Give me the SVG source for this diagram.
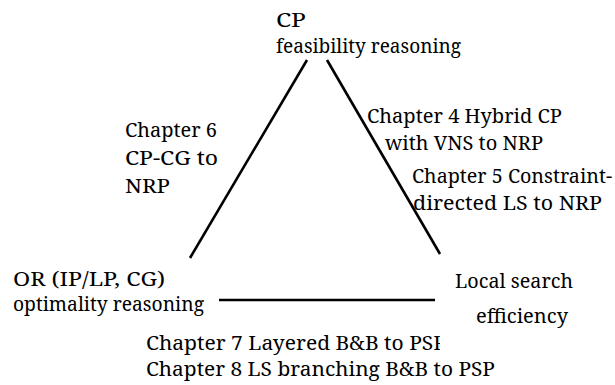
<svg xmlns="http://www.w3.org/2000/svg" width="615" height="385" viewBox="0 0 615 385">
<style>
text { font-size: 19.5px; fill: #000; }
.edge { stroke: #000; stroke-width: 2.6; fill: none; }
</style>
<defs>
<clipPath id="clipBottom"><rect x="0" y="320" width="440" height="40"/></clipPath>
</defs>
<rect x="0" y="0" width="615" height="385" fill="#fff"/>
<g id="connectors">
<line class="edge" x1="307" y1="60" x2="190" y2="258"/>
<line class="edge" x1="327" y1="60" x2="440" y2="254"/>
<line class="edge" x1="219" y1="300" x2="435" y2="300"/>
</g>
<g id="node-cp" style="font-family: 'Noto Serif', 'Times New Roman', 'Liberation Serif', 'DejaVu Serif', serif">
<text x="276" y="27" textLength="30" lengthAdjust="spacingAndGlyphs">CP</text>
<text x="276" y="53" textLength="185" lengthAdjust="spacingAndGlyphs">feasibility reasoning</text>
</g>
<g id="node-or" style="font-family: 'Noto Serif', 'Times New Roman', 'Liberation Serif', 'DejaVu Serif', serif">
<text x="13" y="286" textLength="152" lengthAdjust="spacingAndGlyphs">OR (IP/LP, CG)</text>
<text x="13" y="311" textLength="191" lengthAdjust="spacingAndGlyphs">optimality reasoning</text>
</g>
<g id="node-ls" style="font-family: 'Noto Serif', 'Times New Roman', 'Liberation Serif', 'DejaVu Serif', serif">
<text x="455" y="288" textLength="118" lengthAdjust="spacingAndGlyphs">Local search</text>
<text x="476" y="323" textLength="92" lengthAdjust="spacingAndGlyphs">efficiency</text>
</g>
<g id="label-ch6" style="font-family: 'Noto Serif', 'Times New Roman', 'Liberation Serif', 'DejaVu Serif', serif">
<text x="125" y="137" textLength="92" lengthAdjust="spacingAndGlyphs">Chapter 6</text>
<text x="125" y="165" textLength="93" lengthAdjust="spacingAndGlyphs">CP-CG to</text>
<text x="125" y="193" textLength="45" lengthAdjust="spacingAndGlyphs">NRP</text>
</g>
<g id="label-ch4" style="font-family: 'Noto Serif', 'Times New Roman', 'Liberation Serif', 'DejaVu Serif', serif">
<text x="367" y="123" textLength="195" lengthAdjust="spacingAndGlyphs">Chapter 4 Hybrid CP</text>
<text x="385" y="150" textLength="158" lengthAdjust="spacingAndGlyphs">with VNS to NRP</text>
</g>
<g id="label-ch5" style="font-family: 'Noto Serif', 'Times New Roman', 'Liberation Serif', 'DejaVu Serif', serif">
<text x="412" y="183" textLength="200" lengthAdjust="spacingAndGlyphs">Chapter 5 Constraint-</text>
<text x="413" y="210" textLength="189" lengthAdjust="spacingAndGlyphs">directed LS to NRP</text>
</g>
<g id="label-ch78" style="font-family: 'Noto Serif', 'Times New Roman', 'Liberation Serif', 'DejaVu Serif', serif">
<text x="146" y="350" textLength="300" lengthAdjust="spacingAndGlyphs" clip-path="url(#clipBottom)">Chapter 7 Layered B&amp;B to PSP</text>
<text x="146" y="376" textLength="349" lengthAdjust="spacingAndGlyphs">Chapter 8 LS branching B&amp;B to PSP</text>
</g>
</svg>
